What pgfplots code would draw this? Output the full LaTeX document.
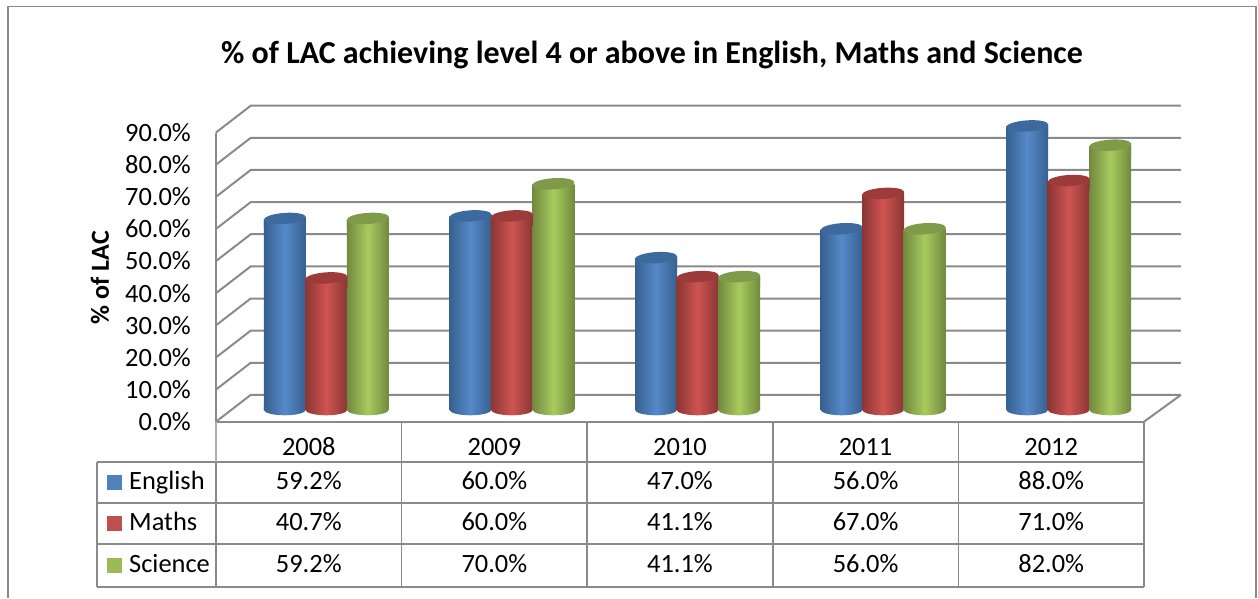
\documentclass[border=0pt]{standalone}
\usepackage{fontspec}
\setmainfont{Carlito}
\usepackage{pgfplots}
\usepackage{pgfplotstable}
\pgfplotsset{compat=1.18}

\definecolor{wall}{HTML}{8A8A8A}
\definecolor{Ekey}{HTML}{4F81BD}
\definecolor{Mkey}{HTML}{C0504D}
\definecolor{Skey}{HTML}{9BBB59}
\definecolor{Eedge}{HTML}{36608F}
\definecolor{Emid}{HTML}{5689C9}
\definecolor{Etop}{HTML}{3D6A9E}
\definecolor{Medge}{HTML}{8A3634}
\definecolor{Mmid}{HTML}{CE5451}
\definecolor{Mtop}{HTML}{9C3B39}
\definecolor{Sedge}{HTML}{71893F}
\definecolor{Smid}{HTML}{A8CB5E}
\definecolor{Stop}{HTML}{7F9A48}

% Results per year, in percent
\pgfplotstableread{
x    english maths science
0.5  59.2    40.7  59.2
1.5  60.0    60.0  70.0
2.5  47.0    41.1  41.1
3.5  56.0    67.0  56.0
4.5  88.0    71.0  82.0
}\results

% Cylinder ends: a top cap with a short piece of body under its tilted rim,
% and the lower half of the base ellipse.
\newcommand\cylindermarks[1]{%
  \pgfdeclareplotmark{cap#1}{%
    \path[draw=none,left color=#1edge,right color=#1edge,middle color=#1mid]
      (-21pt,-9pt)--(-21pt,-0.5pt)--(21pt,2.5pt)--(21pt,-9pt)--cycle;
    \path[draw=none,fill=#1top] (0pt,1pt) ellipse [x radius=21.1pt,y radius=5.6pt,rotate=4];
  }%
  \pgfdeclareplotmark{base#1}{%
    \begin{scope}[yshift=1.5pt,rotate=4]
      \path[draw=none,left color=#1edge,right color=#1edge,middle color=#1mid]
        (-21pt,0pt) arc [start angle=180,end angle=360,x radius=21pt,y radius=5.6pt]
        --(21pt,3pt)--(-21pt,3pt)--cycle;
    \end{scope}
  }%
}
\cylindermarks{E}
\cylindermarks{M}
\cylindermarks{S}

\newcommand\bodyfont{\fontsize{26.4}{30}\selectfont}

\pgfplotsset{
  chartsize/.style={
    scale only axis,width=928pt,height=289.2pt,
    xmin=0,xmax=5,ymin=0,ymax=90,clip=false},
  tablevalues/.style={
    only marks,mark=none,point meta=explicit,
    nodes near coords={\pgfmathprintnumber[fixed,fixed zerofill,precision=1,assume math mode=true]{\pgfplotspointmeta}\%},
    every node near coord/.style={anchor=base,inner sep=0pt,font=\bodyfont,text=black}},
  cylinder/.style 2 args={
    ybar,bar width=42pt,bar shift=#2,draw=none,
    left color=#1edge,right color=#1edge,middle color=#1mid},
}

% One series of cylinders: each bar is plotted on its own so that it gets its
% own gradient. Arguments: colour key, table column, sideways shift.
\newcommand\cylinderseries[3]{%
  \addplot[only marks,mark=base#1,mark options={xshift=#3}] table[x=x,y expr=0] {\results};
  \pgfplotsinvokeforeach{0,1,2,3,4}{%
    \addplot[cylinder={#1}{#3},restrict x to domain=##1:##1.9] table[x=x,y=#2] {\results};
  }%
  \addplot[only marks,mark=cap#1,mark options={xshift=#3}] table[x=x,y=#2] {\results};
}

\tikzset{wallline/.style={draw=wall,line width=2pt},
         tableline/.style={draw=wall,line width=1.6pt}}

\begin{document}
\begin{tikzpicture}[x=1pt,y=1pt]
\path[use as bounding box] (0,0) rectangle (1258,598);

% Outer chart border, running off the lower edge
\draw[wall,line width=1.6pt] (8,0)--(8,591.3)--(1255.7,591.3)--(1255.7,0);

\begin{axis}[
  chartsize,
  at={(216pt,176.3pt)},anchor=south west,
  axis x line=bottom,axis y line=left,
  axis line style={-,draw=wall,line width=2pt},
  major tick length=0pt,
  ytick={0,10,...,90},
  yticklabel={\pgfmathprintnumber[fixed,fixed zerofill,precision=1,assume math mode=true]{\tick}\%},
  y tick label style={font=\bodyfont,anchor=east,inner sep=0pt,xshift=-25pt},
  xtick={0.5,1.5,2.5,3.5,4.5},
  xticklabels={2008,2009,2010,2011,2012},
  x tick label style={font=\bodyfont,anchor=base,inner sep=0pt,yshift=-33.3pt},
  title={\% of LAC achieving level 4 or above in English, Maths and Science},
  title style={at={(axis description cs:0.4698,1.2472)},anchor=center,inner sep=0pt,
    font=\fontsize{32}{36}\selectfont\bfseries},
  ylabel={\% of LAC},
  ylabel style={at={(axis description cs:-0.125,0.4986)},anchor=center,inner sep=0pt,
    font=\fontsize{26}{30}\selectfont\bfseries},
]
% Side wall and back wall gridlines
\pgfplotsinvokeforeach{0,10,...,90}{
  \draw[wallline] (axis cs:0,#1)--(axis cs:0.187,#1+8.34)--(axis cs:5.199,#1+8.34);
}
% Right edge of the floor
\draw[wallline] (axis cs:5,0)--(axis cs:5.199,8.34);

% Data table grid
\draw[tableline] (axis cs:-0.6396,-12.45)--(axis cs:5,-12.45);
\draw[tableline] (axis cs:-0.6396,-25.3)--(axis cs:5,-25.3);
\draw[tableline] (axis cs:-0.6396,-38.06)--(axis cs:5,-38.06);
\draw[tableline] (axis cs:-0.6396,-51.35)--(axis cs:5,-51.35);
\draw[tableline] (axis cs:-0.6396,-12.45)--(axis cs:-0.6396,-51.35);
\draw[draw=wall!70,line width=1.4pt] (axis cs:0,0)--(axis cs:0,-12.45);
\draw[draw=wall,line width=2pt] (axis cs:0,-12.45)--(axis cs:0,-51.35);
\pgfplotsinvokeforeach{1,2,3,4,5}{
  \draw[tableline] (axis cs:#1,0)--(axis cs:#1,-51.35);
}

% Table values
\addplot[tablevalues] table[x=x,y expr=-21.25,meta=english] {\results};
\addplot[tablevalues] table[x=x,y expr=-34.0,meta=maths] {\results};
\addplot[tablevalues] table[x=x,y expr=-46.9,meta=science] {\results};

% Series keys and names in the first table column
\fill[Ekey] (axis cs:-0.5469,-18.92) ++(-7.5pt,-7.5pt) rectangle ++(15pt,15pt);
\fill[Mkey] (axis cs:-0.5469,-31.68) ++(-7.5pt,-7.5pt) rectangle ++(15pt,15pt);
\fill[Skey] (axis cs:-0.5469,-44.75) ++(-7.5pt,-7.5pt) rectangle ++(15pt,15pt);
\node[anchor=base west,inner sep=0pt,font=\bodyfont] at (axis cs:-0.4688,-21.25) {English};
\node[anchor=base west,inner sep=0pt,font=\bodyfont] at (axis cs:-0.4688,-34.0) {Maths};
\node[anchor=base west,inner sep=0pt,font=\bodyfont] at (axis cs:-0.4688,-46.9) {Science};
\end{axis}

% Cylinders stand midway between the front edge and the back wall
\begin{axis}[
  chartsize,hide axis,
  at={(233.5pt,188.3pt)},anchor=south west,
]
\cylinderseries{E}{english}{-41.5pt}
\cylinderseries{M}{maths}{0pt}
\cylinderseries{S}{science}{41.5pt}
\end{axis}
\end{tikzpicture}
\end{document}
